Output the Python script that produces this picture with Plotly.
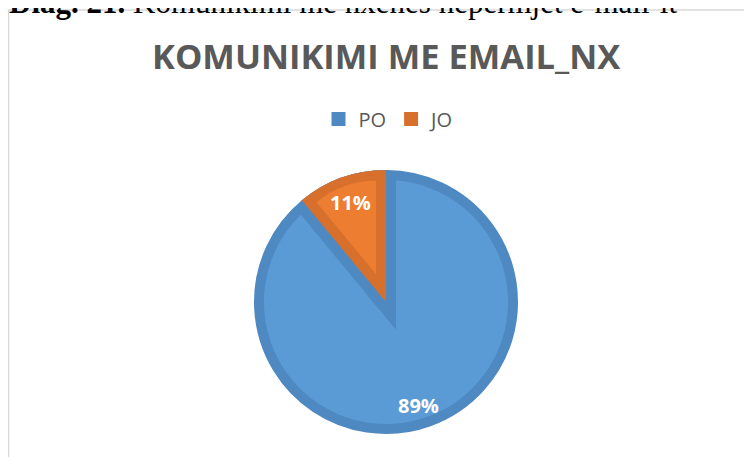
import math
import plotly.graph_objects as go

# ---- data ----
labels = ["PO", "JO"]
values = [89, 11]
fill_colors = ["#5B9BD5", "#ED7D31"]
edge_colors = ["#4E89C2", "#D6702C"]
title_text = "KOMUNIKIMI ME EMAIL_NX"
caption_bold = "Diag. 21."
caption_text = "Komunikimi me nxenes nepermjet e-mail-it"

# ---- geometry (page pixels) ----
W, H = 752, 457
OFF = 8                      # default page margin around the figure
CX, CY, R = 386, 302, 132
BAND = 10
T = "rgba(0,0,0,0)"


def fx(x):
    return (x - OFF) / W


def fy(y):
    return 1 - (y - OFF) / H


total = sum(values)
half = math.radians(values[1] / total * 180.0)          # half-angle of the JO slice
shift = BAND / math.sin(half)
ux, uy = -math.sin(half), -math.cos(half)                # JO bisector (screen coords)


def dom(cx, cy, r):
    return dict(x=[fx(cx - r), fx(cx + r)], y=[fy(cy + r), fy(cy - r)])


def pie(domain, colors, line_colors=None, line_widths=None, legend=False):
    return go.Pie(
        labels=labels, values=values, sort=False, direction="counterclockwise",
        rotation=0, domain=domain, textinfo="none", showlegend=legend,
        hoverinfo="label+percent",
        marker=dict(colors=colors,
                    line=dict(color=line_colors or [T, T], width=line_widths or [0, 0])),
    )


fig = go.Figure()
# full dark disc (outer band); also feeds the legend
fig.add_trace(pie(dom(CX, CY, R - 1), edge_colors, edge_colors, [2, 2], legend=True))
# light blue interior
fig.add_trace(pie(dom(CX, CY, R - BAND), [fill_colors[0], T]))
# dark blue band along the shared edges
fig.add_trace(pie(dom(CX, CY, R - BAND), [T, T], [T, edge_colors[0]], [0, 2 * BAND]))
# mitred tip of that band
fig.add_trace(pie(dom(CX - shift * ux, CY - shift * uy, 48), [T, edge_colors[0]]))
# dark orange slice
fig.add_trace(pie(dom(CX, CY, R), [T, edge_colors[1]]))
# light orange interior
fig.add_trace(pie(dom(CX + shift * ux, CY + shift * uy, R - BAND - shift + 1),
                  [T, fill_colors[1]]))

# percentage labels
pct_pos = [(418, 405), (350, 202)]
for v, (px, py) in zip(values, pct_pos):
    fig.add_annotation(x=fx(px), y=fy(py), xref="paper", yref="paper",
                       text=f"<b>{round(v / total * 100)}%</b>", showarrow=False,
                       font=dict(family="Open Sans", size=20, color="white"),
                       xanchor="center", yanchor="middle")

# title
fig.add_annotation(x=fx(386), y=fy(56), xref="paper", yref="paper",
                   text=f"<b>{title_text}</b>", showarrow=False,
                   font=dict(family="Open Sans", size=34.5, color="#595959"),
                   xanchor="center", yanchor="middle")

# caption above the chart (cut at top)
fig.add_annotation(x=fx(7), y=fy(22), xref="paper", yref="paper",
                   text=f"<b>{caption_bold}</b> {caption_text}", showarrow=False,
                   font=dict(family="Liberation Serif", size=31, color="black"),
                   xanchor="left", yanchor="bottom")

# chart border
fig.add_shape(type="rect", xref="paper", yref="paper",
              x0=fx(8.5), x1=1.05, y0=-0.1, y1=fy(10),
              line=dict(color="#D9D9D9", width=1.5), fillcolor=T, layer="below")

fig.update_layout(
    width=W, height=H, autosize=False,
    margin=dict(l=0, r=0, t=0, b=0),
    paper_bgcolor="white", plot_bgcolor="white",
    legend=dict(orientation="h", x=fx(389), xanchor="center", y=fy(119),
                yanchor="middle", font=dict(family="Open Sans", size=20, color="#595959"),
                bgcolor=T, traceorder="normal"),
)

fig.write_html("out.html")
